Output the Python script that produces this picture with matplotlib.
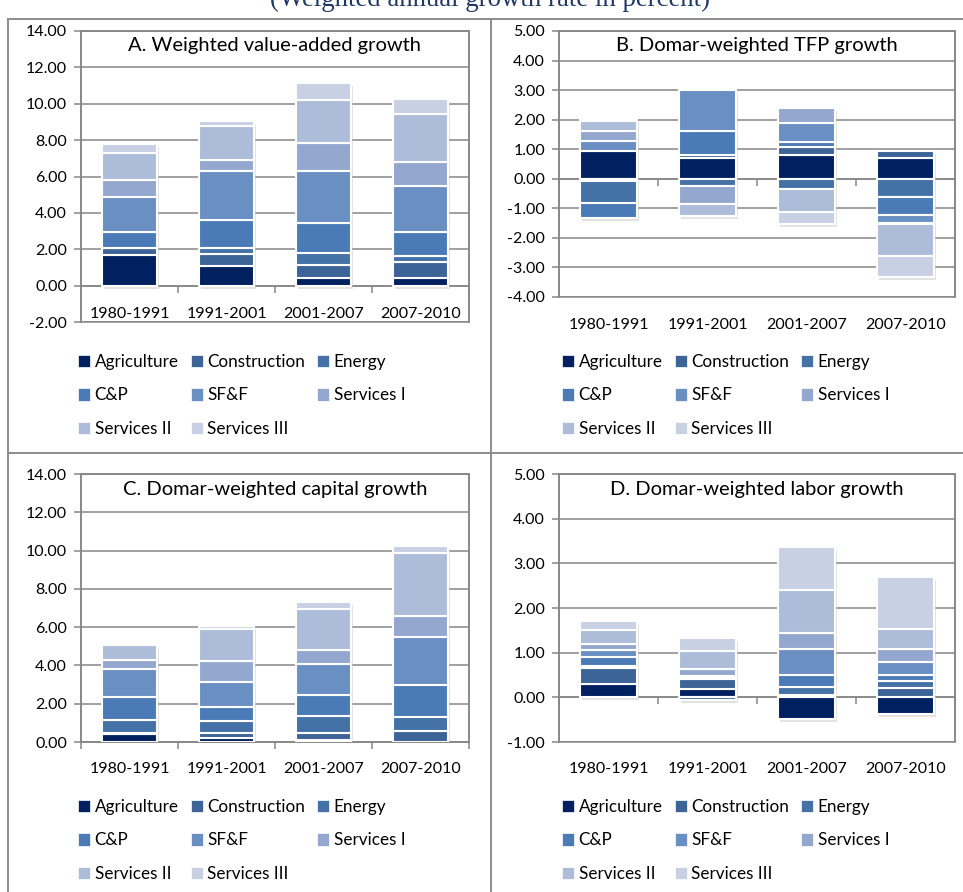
import matplotlib
matplotlib.use("Agg")
import matplotlib.pyplot as plt
import matplotlib.transforms as mtransforms
from matplotlib.patches import Patch
from matplotlib.lines import Line2D
from matplotlib.ticker import FormatStrFormatter, MultipleLocator, FixedLocator
import numpy as np

plt.rcParams['font.family'] = ['Lato', 'DejaVu Sans']

periods = ["1980-1991", "1991-2001", "2001-2007", "2007-2010"]
sectors = ["Agriculture", "Construction", "Energy", "C&P", "SF&F",
           "Services I", "Services II", "Services III"]
colors = ["#002060", "#3d6497", "#4471a6", "#4a7bb7", "#6a8fc3",
          "#94a8cf", "#adbdd9", "#c8d1e4"]

# one row per sector, one column per period
value_added = [
    [1.66, 1.10, 0.42, 0.42],
    [0.39, 0.64, 0.70, 0.88],
    [0.00, 0.33, 0.69, 0.35],
    [0.92, 1.54, 1.63, 1.30],
    [1.90, 2.71, 2.88, 2.51],
    [0.94, 0.60, 1.54, 1.31],
    [1.48, 1.87, 2.36, 2.68],
    [0.48, 0.28, 0.92, 0.79],
]
tfp = [
    [0.94, 0.70, 0.79, 0.71],
    [-0.06, 0.09, 0.28, 0.22],
    [-0.76, -0.26, -0.34, -0.60],
    [-0.50, 0.81, 0.19, -0.63],
    [0.34, 1.40, 0.63, -0.25],
    [0.34, -0.59, 0.51, -0.05],
    [0.34, -0.40, -0.79, -1.08],
    [0.05, -0.01, -0.40, -0.71],
]
capital = [
    [0.44, 0.21, 0.12, 0.00],
    [0.05, 0.26, 0.35, 0.56],
    [0.68, 0.61, 0.91, 0.73],
    [1.16, 0.77, 1.09, 1.71],
    [1.49, 1.29, 1.61, 2.49],
    [0.48, 1.11, 0.75, 1.11],
    [0.79, 1.67, 2.14, 3.28],
    [0.03, 0.13, 0.35, 0.35],
]
labor = [
    [0.30, 0.19, -0.49, -0.37],
    [0.35, 0.23, 0.05, 0.20],
    [0.06, -0.05, 0.19, 0.17],
    [0.19, 0.03, 0.25, 0.12],
    [0.16, 0.03, 0.60, 0.29],
    [0.13, 0.16, 0.34, 0.30],
    [0.32, 0.40, 0.97, 0.45],
    [0.21, 0.28, 0.97, 1.16],
]

W, H = 963, 892
fig = plt.figure(figsize=(W / 100, H / 100), dpi=100)
PX = 72 / 100  # points per pixel


def add_px_axes(l, t, r, b):
    return fig.add_axes([l / W, 1 - b / H, (r - l) / W, (b - t) / H])


def panel(box, data, title, ylim, step, label_y, legend_xy):
    l, t, r, b = box
    ax = add_px_axes(l, t, r, b)
    data = np.array(data)
    x = np.arange(len(periods))
    width = 0.57

    # soft shadow behind every stack
    pos_tot = np.where(data > 0, data, 0).sum(axis=0)
    neg_tot = np.where(data < 0, data, 0).sum(axis=0)
    shadow = mtransforms.offset_copy(ax.transData, fig=fig, x=2, y=-3, units='dots')
    ax.bar(x, pos_tot - neg_tot, width, bottom=neg_tot, color='#bfbfbf',
           alpha=0.45, transform=shadow, zorder=2, linewidth=0)

    pos_base = np.zeros(len(periods))
    neg_base = np.zeros(len(periods))
    handles = []
    for vals, name, c in zip(data, sectors, colors):
        base = np.where(vals >= 0, pos_base, neg_base)
        ax.bar(x, vals, width, bottom=base, color=c, edgecolor='white',
               linewidth=1.5, zorder=3)
        pos_base += np.where(vals > 0, vals, 0)
        neg_base += np.where(vals < 0, vals, 0)
        handles.append(Patch(facecolor=c, edgecolor='white', linewidth=0.5))

    ax.set_xlim(-0.5, len(periods) - 0.5)
    ax.set_ylim(*ylim)
    ax.yaxis.set_major_locator(MultipleLocator(step))
    ax.yaxis.set_major_formatter(FormatStrFormatter('%.2f'))
    ax.grid(axis='y', color='#868686', linewidth=1.1, zorder=0)
    ax.set_axisbelow(True)

    for s in ['top', 'right', 'left']:
        ax.spines[s].set_color('#868686')
        ax.spines[s].set_linewidth(1.1)
    ax.spines['bottom'].set_position(('data', 0))
    ax.spines['bottom'].set_color('#868686')
    ax.spines['bottom'].set_linewidth(1.1)
    ax.spines['bottom'].set_zorder(1)
    ax.patch.set_edgecolor('#868686')
    ax.patch.set_linewidth(1.1)

    ax.tick_params(axis='y', direction='out', length=5, width=1.1,
                   color='#868686', labelsize=11.5, pad=5)
    # category labels sit below the zero line, at the picture's height
    zero_px = b - (0 - ylim[0]) / (ylim[1] - ylim[0]) * (b - t)
    pad_px = label_y - zero_px - 4
    ax.set_xticks(x)
    ax.set_xticklabels(periods)
    ax.tick_params(axis='x', which='major', length=0, labelsize=11.5,
                   pad=pad_px * PX)
    ax.xaxis.set_minor_locator(FixedLocator(np.arange(-0.5, len(periods), 1.0)))
    ax.tick_params(axis='x', which='minor', direction='out', length=5,
                   width=1.1, color='#868686')

    ax.text(0.5, 1 - 15 / (b - t), title, transform=ax.transAxes,
            ha='center', va='center', fontsize=14.5, zorder=5)

    order = [0, 3, 6, 1, 4, 7, 2, 5]
    ax.legend([handles[i] for i in order], [sectors[i] for i in order],
              ncol=3, loc='upper left',
              bbox_to_anchor=(legend_xy[0] / W, 1 - legend_xy[1] / H),
              bbox_transform=fig.transFigure, frameon=False, borderpad=0,
              borderaxespad=0, fontsize=12.3, handlelength=0.72,
              handleheight=0.72, handletextpad=0.25, columnspacing=0.7,
              labelspacing=1.02)
    return ax


panel((81, 31, 469, 322), value_added, "A. Weighted value-added growth",
      (-2, 14), 2, 311, (78, 354))
panel((559, 31, 955, 297), tfp, "B. Domar-weighted TFP growth",
      (-4, 5), 1, 322, (562, 354))
panel((81, 474, 469, 742), capital, "C. Domar-weighted capital growth",
      (0, 14), 2, 766, (78, 799))
panel((559, 474, 955, 742), labor, "D. Domar-weighted labor growth",
      (-1, 5), 1, 766, (562, 799))

# panel frames
for xs, ys in [((8 / W, 8 / W), (0, 1 - 19 / H)),
               ((491 / W, 491 / W), (0, 1 - 19 / H)),
               ((8 / W, 1), (1 - 19 / H, 1 - 19 / H)),
               ((8 / W, 1), (1 - 453 / H, 1 - 453 / H))]:
    fig.add_artist(Line2D(xs, ys, transform=fig.transFigure,
                          color='#8c8c8c', linewidth=1.4))

fig.text(490 / W, 1 - 6 / H, "(Weighted annual growth rate in percent)",
         ha='center', va='baseline', fontsize=19.3, color='#1f3864',
         family='Liberation Serif')

fig.savefig("out.png", dpi=100)
